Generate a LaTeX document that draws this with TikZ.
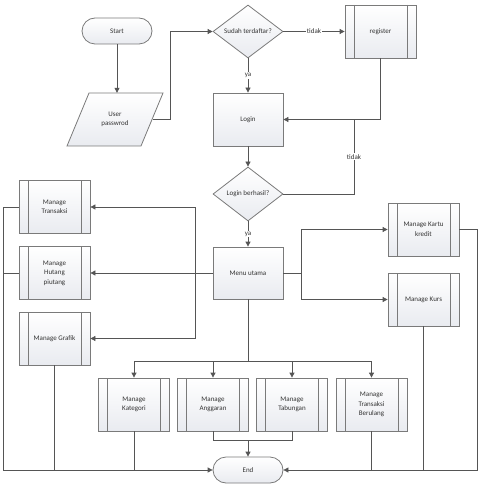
\documentclass[tikz,border=0pt]{standalone}
\usepackage{fontspec}
\setmainfont{Carlito}
\usetikzlibrary{arrows.meta,shapes.geometric,calc}
\definecolor{boxline}{HTML}{7A7A7A}
\definecolor{conn}{HTML}{555555}
\definecolor{boxfill}{HTML}{E9EBF0}
\definecolor{txt}{HTML}{333333}
\begin{document}
\begin{tikzpicture}[x=1pt,y=-1pt,
  every node/.style={font=\fontsize{7}{9.5}\selectfont, text=txt, align=center},
  basebox/.style={draw=boxline, line width=0.8pt, top color=white, bottom color=boxfill, inner sep=1pt},
  procbox/.style={basebox, rectangle, minimum width=70pt, minimum height=53pt},
  subproc/.style={procbox, minimum width=71pt, path picture={
      \draw[boxline, line width=0.8pt] ([xshift=9pt]path picture bounding box.north west) -- ([xshift=9pt]path picture bounding box.south west);
      \draw[boxline, line width=0.8pt] ([xshift=-9pt]path picture bounding box.north east) -- ([xshift=-9pt]path picture bounding box.south east);}},
  termbox/.style={basebox, rectangle, rounded corners=13pt, minimum width=70pt, minimum height=26pt},
  decision/.style={basebox, diamond, aspect=1.32, inner sep=0pt, minimum width=70pt, minimum height=53pt},
  conline/.style={draw=conn, line width=0.8pt},
  arr/.style={conline, -{Triangle[length=5pt,width=5pt]}},
  lbl/.style={fill=white, inner sep=1pt}
]
\useasboundingbox (0,0) rectangle (482,486);

% nodes
\node[termbox] (start) at (117,31) {Start};
\draw[basebox] (89,93) -- (163,93) -- (141,146) -- (67,146) -- cycle;
\node[inner sep=0pt, minimum width=76pt, minimum height=53pt] (user) at (115,119.5) {User\\passwrod};
\node[decision] (sudah) at (248,31.5) {Sudah terdaftar?};
\node[subproc] (reg) at (380.5,31.5) {register};
\node[procbox] (login) at (248,119.5) {Login};
\node[decision, minimum height=54pt] (berhasil) at (248,194) {Login berhasil?};
\node[procbox, minimum height=52pt] (menu) at (248,273) {Menu utama};
\node[subproc] (kartu) at (423.5,229.5) {Manage Kartu\\kredit};
\node[subproc] (kurs) at (423.5,299.5) {Manage Kurs};
\node[subproc] (trans) at (54.5,207) {Manage\\Transaksi};
\node[subproc] (hutang) at (54.5,273) {Manage\\Hutang\\piutang};
\node[subproc] (grafik) at (54.5,338.5) {Manage Grafik};
\node[subproc] (kat) at (134,404.5) {Manage\\Kategori};
\node[subproc] (ang) at (213,404.5) {Manage\\Anggaran};
\node[subproc] (tab) at (292,404.5) {Manage\\Tabungan};
\node[subproc] (ber) at (371.5,404.5) {Manage\\Transaksi\\Berulang};
\node[termbox] (end) at (248,470) {End};

% helper coordinates
\coordinate (jA) at (170,0);
\coordinate (jB) at (354,0);
\coordinate (jC) at (301,0);
\coordinate (jD) at (195,0);
\coordinate (jE) at (3,0);
\coordinate (jF) at (477,0);
\coordinate (jG) at (0,361);
\coordinate (jH) at (0,440);

% connectors
\draw[arr] (start.south) -- (start.south |- user.north);
\draw[arr] (user.east) -- (user.east -| jA) |- (sudah.west);
\draw[arr] (sudah.east) -- node[lbl] {tidak} (reg.west);
\draw[arr] (sudah.south) -- node[lbl] {ya} (login.north);
\draw[arr] (reg.south) |- (login.east);
\draw[arr] (login.south) -- (berhasil.north);
\draw[conline] (berhasil.east) -| node[lbl, pos=0.75] {tidak} (jB |- login.east);
\draw[arr] (berhasil.south) -- node[lbl] {ya} (menu.north);

\draw[conline] (menu.east) -- (menu.east -| jC);
\draw[arr] (menu.east -| jC) |- (kartu.west);
\draw[arr] (menu.east -| jC) |- (kurs.west);

\draw[conline] (menu.west) -- (menu.west -| jD);
\draw[arr] (menu.west -| jD) |- (trans.east);
\draw[arr] (menu.west -| jD) -- (hutang.east);
\draw[arr] (menu.west -| jD) |- (grafik.east);

\draw[conline] (trans.west) -- (trans.west -| jE);
\draw[conline] (hutang.west) -- (hutang.west -| jE);
\draw[arr] (trans.west -| jE) |- (end.west);
\draw[conline] (grafik.south) -- (grafik.south |- end.west);
\draw[conline] (kat.south) -- (kat.south |- end.west);

\draw[conline] (menu.south) -- (menu.south |- jG);
\draw[conline] (kat.north |- jG) -- (ber.north |- jG);
\draw[arr] (kat.north |- jG) -- (kat.north);
\draw[arr] (ang.north |- jG) -- (ang.north);
\draw[arr] (tab.north |- jG) -- (tab.north);
\draw[arr] (ber.north |- jG) -- (ber.north);

\draw[conline] (ang.south) |- (end.north |- jH);
\draw[conline] (tab.south) |- (end.north |- jH);
\draw[arr] (end.north |- jH) -- (end.north);

\draw[arr] (kartu.east) -- (kartu.east -| jF) |- (end.east);
\draw[conline] (kurs.south) -- (kurs.south |- end.east);
\draw[conline] (ber.south) -- (ber.south |- end.east);
\end{tikzpicture}
\end{document}
